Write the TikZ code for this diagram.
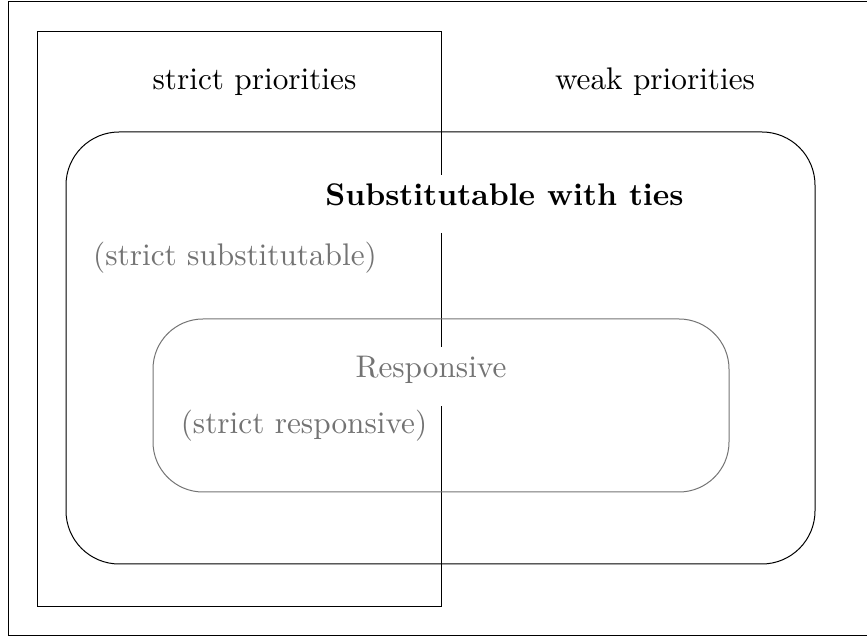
\documentclass[tikz,border=0pt]{standalone}
\usetikzlibrary{positioning}

\begin{document}
\begin{tikzpicture}[x=0.32pt,y=-0.32pt, line width=0.32pt,
    bigset/.style={draw, rounded corners=17pt},
    smallset/.style={draw=black!55, rounded corners=16pt},
    lbl/.style={anchor=base, inner sep=0pt},
    greylbl/.style={lbl, text=black!55}]
    \useasboundingbox (0,0) rectangle (867,637);
    % outer frame
    \draw (8,2) rectangle (880,636);
    % strict priorities region (right side broken around the labels)
    \draw (441,175) -- (441,32) -- (37,32) -- (37,607) -- (441,607) -- (441,406);
    \draw (441,233) -- (441,347);
    % Substitutable with ties / Responsive sets
    \draw [bigset] (66,132) rectangle (815,564);
    \draw [smallset] (153,319) rectangle (729,492);
    % labels
    \node [lbl] (strict) at (254.5,90) {strict priorities};
    \node [lbl] (weak) at (655,90) {weak priorities};
    \node [lbl] (subst) at (504.5,206) {\bfseries Substitutable with ties};
    \node [greylbl] (strictsubst) at (235,266) {(strict substitutable)};
    \node [greylbl] (resp) at (431,378) {Responsive};
    \node [greylbl] (strictresp) at (304,434) {(strict responsive)};
\end{tikzpicture}
\end{document}
